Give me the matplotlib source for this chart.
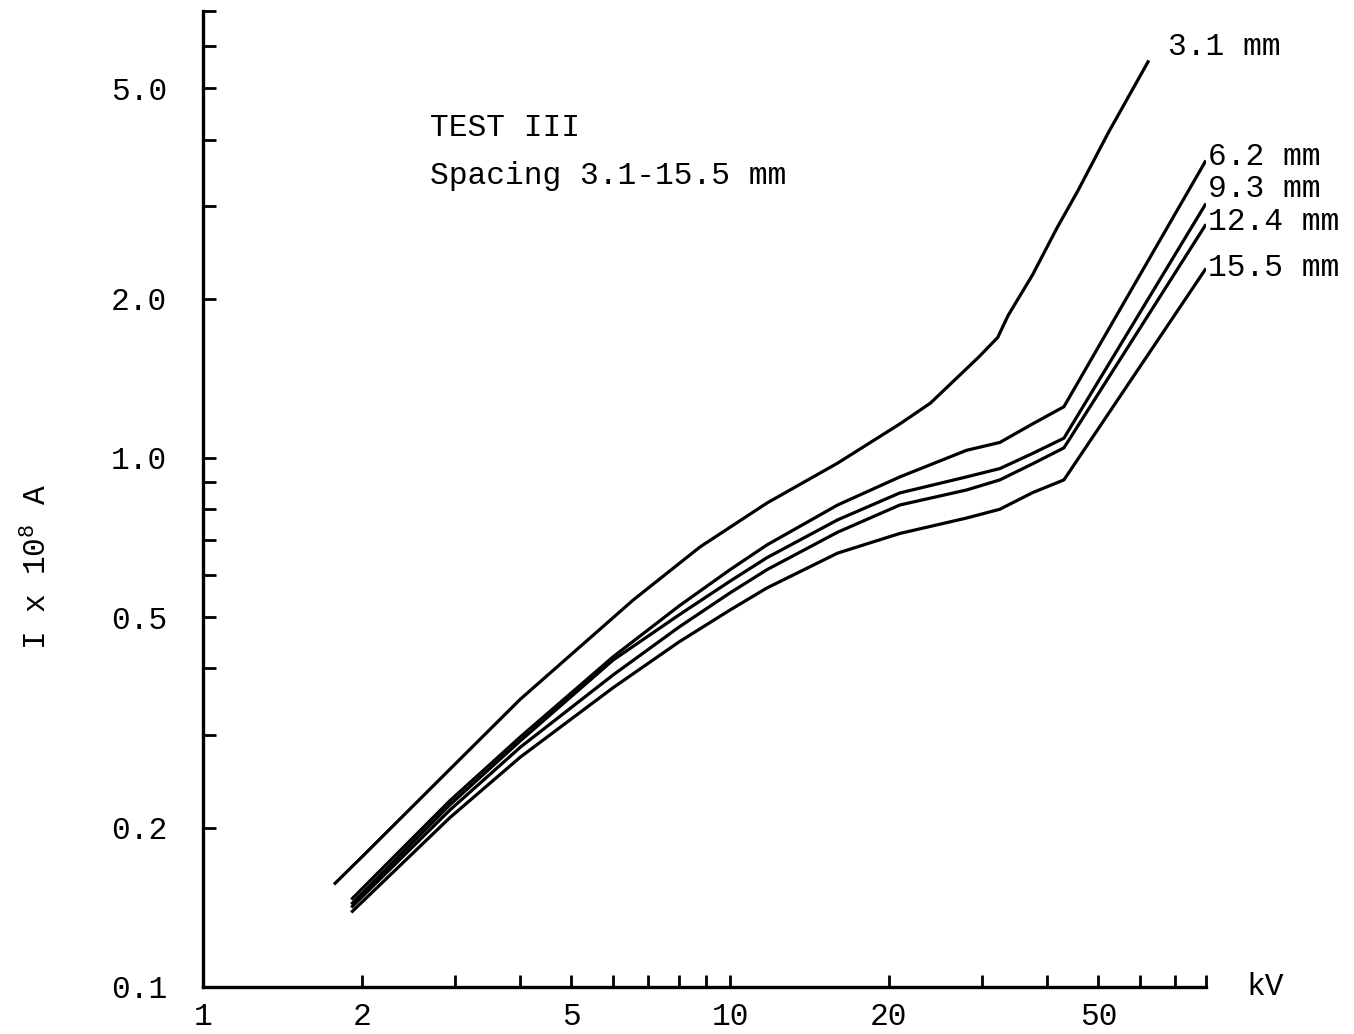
import numpy as np
import matplotlib
matplotlib.use("Agg")
from matplotlib import pyplot as plt
from matplotlib.ticker import FixedLocator, NullFormatter

plt.rcParams['font.family'] = ['Liberation Mono', 'DejaVu Sans Mono']
plt.rcParams['mathtext.default'] = 'regular'

# kV vs I x 10^8 A
kv_31 = [1.78, 2.0, 2.94, 4.0, 6.55, 8.77, 11.75, 16.0, 21.0, 24.0, 29.6, 32.2, 33.7, 37.5, 41.7, 45.7, 52.2, 62.1]
i_31 = [0.157, 0.176, 0.258, 0.350, 0.539, 0.679, 0.822, 0.978, 1.16, 1.27, 1.55, 1.69, 1.86, 2.22, 2.72, 3.20, 4.12, 5.61]

kv_low = [1.92, 2.94, 4.0, 6.0, 8.0, 10.0, 11.75, 16.0, 21.0, 28.1, 32.5, 37.5, 43.0, 79.7]
i_62 = [0.147, 0.225, 0.297, 0.421, 0.525, 0.615, 0.685, 0.815, 0.921, 1.034, 1.07, 1.16, 1.25, 3.63]
i_93 = [0.144, 0.221, 0.292, 0.415, 0.505, 0.585, 0.648, 0.764, 0.859, 0.921, 0.955, 1.02, 1.09, 3.01]
i_124 = [0.142, 0.216, 0.284, 0.389, 0.479, 0.556, 0.615, 0.724, 0.815, 0.870, 0.909, 0.975, 1.045, 2.75]
i_155 = [0.139, 0.209, 0.272, 0.368, 0.449, 0.516, 0.568, 0.661, 0.720, 0.770, 0.800, 0.86, 0.909, 2.27]

labels = ['3.1 mm', '6.2 mm', '9.3 mm', '12.4 mm', '15.5 mm']

xticks = [1, 2, 5, 10, 20, 50]
yticks = [0.1, 0.2, 0.5, 1.0, 2.0, 5.0]

fs = 22.5

fig = plt.figure(figsize=(13.54, 10.34), dpi=100)
ax = fig.add_axes([0.15, 0.0455, 0.7407, 0.9439])

ax.plot(kv_31, i_31, color='black', lw=2.3)
for ys in [i_62, i_93, i_124, i_155]:
    ax.plot(kv_low, ys, color='black', lw=2.3)

ax.set_xscale('log')
ax.set_yscale('log')
ax.set_xlim(1, 80)
ax.set_ylim(0.1, 7)

ax.spines['top'].set_visible(False)
ax.spines['right'].set_visible(False)
ax.spines['left'].set_linewidth(2.4)
ax.spines['bottom'].set_linewidth(2.4)

ax.xaxis.set_major_locator(FixedLocator(xticks))
ax.set_xticklabels([str(v) for v in xticks])
ax.xaxis.set_minor_locator(FixedLocator([3, 4, 6, 7, 8, 9, 30, 40, 60, 70, 80]))
ax.xaxis.set_minor_formatter(NullFormatter())
ax.yaxis.set_major_locator(FixedLocator(yticks))
ax.set_yticklabels(['%.1f' % v for v in yticks])
ax.yaxis.set_minor_locator(FixedLocator([0.3, 0.4, 0.6, 0.7, 0.8, 0.9, 3, 4, 6, 7]))
ax.yaxis.set_minor_formatter(NullFormatter())

ax.tick_params(which='both', direction='in', length=9, width=2, labelsize=fs)
ax.tick_params(axis='y', pad=26)
ax.tick_params(axis='x', pad=11)

ax.text(67.8, 5.98, labels[0], fontsize=fs, va='center', ha='left')
ax.text(80.7, 3.71, labels[1], fontsize=fs, va='center', ha='left')
ax.text(80.7, 3.22, labels[2], fontsize=fs, va='center', ha='left')
ax.text(80.7, 2.79, labels[3], fontsize=fs, va='center', ha='left')
ax.text(80.7, 2.29, labels[4], fontsize=fs, va='center', ha='left')

ax.text(2.70, 4.21, 'TEST III', fontsize=fs, va='center', ha='left')
ax.text(2.70, 3.42, 'Spacing 3.1-15.5 mm', fontsize=fs, va='center', ha='left')

ax.text(1.04, 0, 'kV', transform=ax.transAxes, fontsize=fs, va='center', ha='left')
fig.text(0.028, 1 - 567 / 1034, 'I x 10$^8$ A', rotation=90, fontsize=fs, va='center', ha='center')

fig.savefig('out.png', dpi=100)
